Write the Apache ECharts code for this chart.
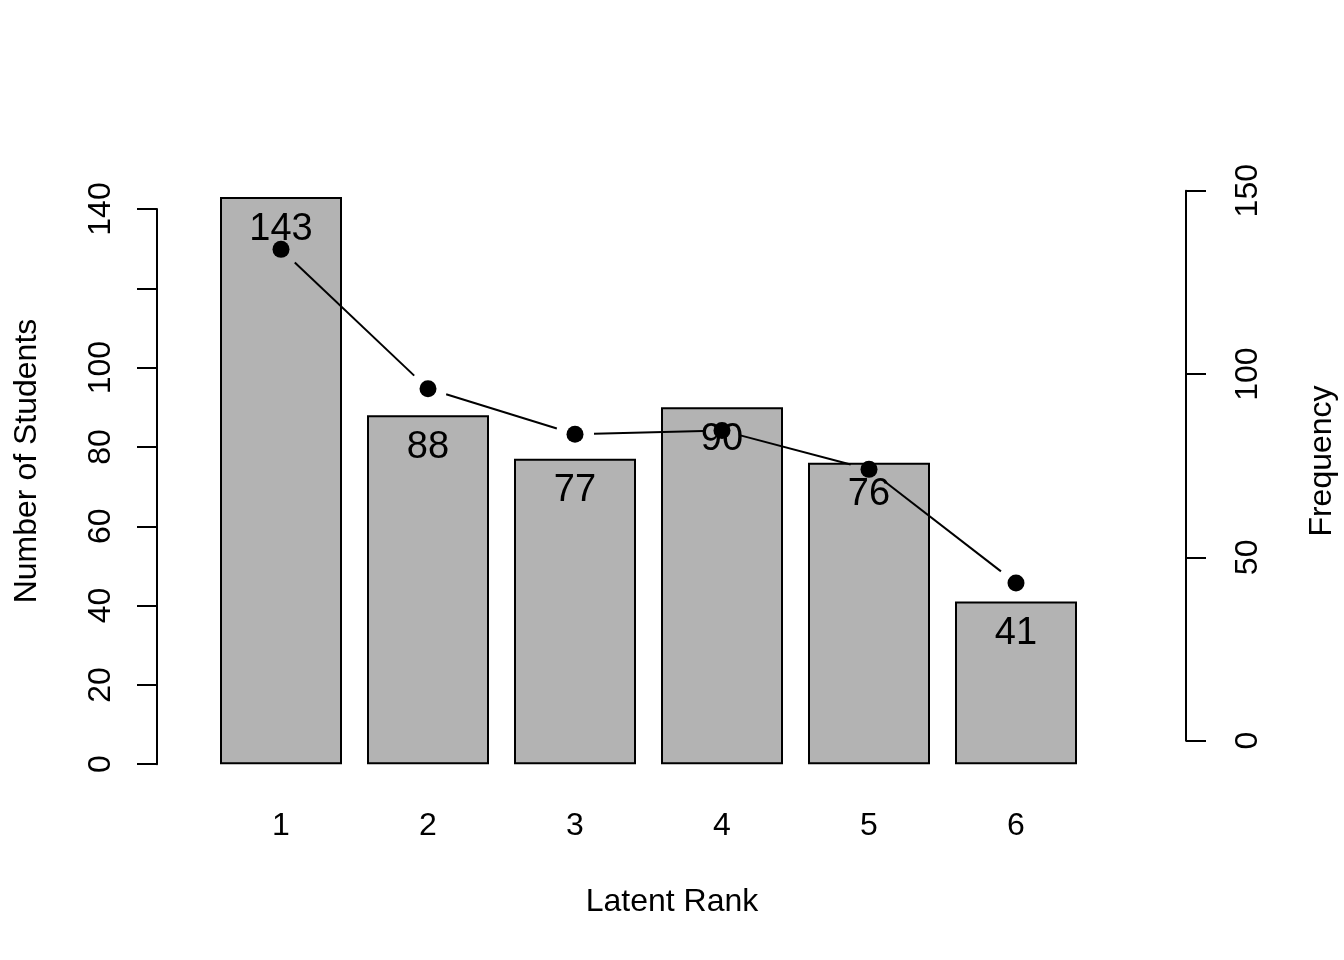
<!DOCTYPE html>
<html>
<head>
<meta charset="utf-8">
<script src="https://cdn.jsdelivr.net/npm/echarts@6/dist/echarts.min.js"></script>
<style>
html,body{margin:0;padding:0;background:#fff;}
#c{width:1344px;height:960px;}
</style>
</head>
<body>
<div id="c"></div>
<script>
var categories = ['1','2','3','4','5','6'];
var students = [143, 88, 77, 90, 76, 41];
var frequency = [134, 96, 83.6, 84.6, 74, 43];
var leftTicks = [0, 20, 40, 60, 80, 100, 120, 140];
var rightTicks = [0, 50, 100, 150];

var FONT = 'Liberation Sans, Arial, Helvetica, sans-serif';
var chart = echarts.init(document.getElementById('c'), null, {renderer:'canvas'});

var segData = frequency.slice(0, -1).map(function(v, i){ return [i, v, frequency[i+1]]; });
var ptData = frequency.map(function(v, i){ return [i, v]; });

var option = {
  backgroundColor: '#ffffff',
  animation: false,
  grid: [
    {left: 207.5, right: 254.5, top: 209, bottom: 195.8},
    {left: 207.5, right: 254.5, top: 190.7, bottom: 219.3}
  ],
  xAxis: [
    {type:'category', gridIndex:0, data: categories,
     axisLine:{show:false}, axisTick:{show:false}, splitLine:{show:false},
     axisLabel:{show:true, margin:46, fontSize:32, color:'#000', fontFamily:FONT}},
    {type:'category', gridIndex:1, data: categories, show:false}
  ],
  yAxis: [
    {type:'value', gridIndex:0, min:leftTicks[0], max:leftTicks[leftTicks.length-1], interval:20,
     offset:50.5, position:'left',
     axisLine:{show:true, lineStyle:{color:'#000', width:2}},
     axisTick:{show:true, inside:false, length:20, lineStyle:{color:'#000', width:2}},
     splitLine:{show:false},
     axisLabel:{show:true, rotate:90, margin:40, fontSize:32, color:'#000', fontFamily:FONT,
       formatter:function(v){ return v === 120 ? '' : String(v); }}},
    {type:'value', gridIndex:1, min:rightTicks[0], max:rightTicks[rightTicks.length-1], interval:50,
     offset:96.5, position:'right',
     axisLine:{show:true, lineStyle:{color:'#000', width:2}},
     axisTick:{show:true, inside:false, length:20, lineStyle:{color:'#000', width:2}},
     splitLine:{show:false},
     axisLabel:{show:true, rotate:90, margin:46, fontSize:32, color:'#000', fontFamily:FONT}}
  ],
  series: [
    {type:'bar', xAxisIndex:0, yAxisIndex:0, data: students, barWidth:122, clip:false,
     itemStyle:{color:'#b3b3b3', borderColor:'#000', borderWidth:2},
     label:{show:true, position:'insideTop', distance:13, fontSize:38, lineHeight:38,
       color:'#000', fontFamily:FONT}, z:2},
    {type:'custom', xAxisIndex:1, yAxisIndex:1, data: segData, encode:{x:0, y:1}, z:5,
     renderItem:function(params, api){
       var i = api.value(0);
       var p0 = api.coord([i, api.value(1)]);
       var p1 = api.coord([i+1, api.value(2)]);
       var dx = p1[0]-p0[0], dy = p1[1]-p0[1];
       var L = Math.sqrt(dx*dx+dy*dy), g = 19;
       var ux = dx/L, uy = dy/L;
       return {type:'line', shape:{x1:p0[0]+ux*g, y1:p0[1]+uy*g, x2:p1[0]-ux*g, y2:p1[1]-uy*g},
               style:{stroke:'#000', lineWidth:2}};
     }},
    {type:'scatter', xAxisIndex:1, yAxisIndex:1, data: ptData, symbol:'circle', symbolSize:17,
     itemStyle:{color:'#000', opacity:1}, z:6}
  ],
  graphic: [
    {type:'text', x:27, y:461, rotation:Math.PI/2,
     style:{text:'Number of Students', font:'32px ' + FONT, fill:'#000', align:'center', verticalAlign:'middle'}},
    {type:'text', x:1322, y:461, rotation:Math.PI/2,
     style:{text:'Frequency', font:'32px ' + FONT, fill:'#000', align:'center', verticalAlign:'middle'}},
    {type:'text', x:672, y:902,
     style:{text:'Latent Rank', font:'32px ' + FONT, fill:'#000', align:'center', verticalAlign:'middle'}}
  ]
};
chart.setOption(option);
</script>
</body>
</html>
